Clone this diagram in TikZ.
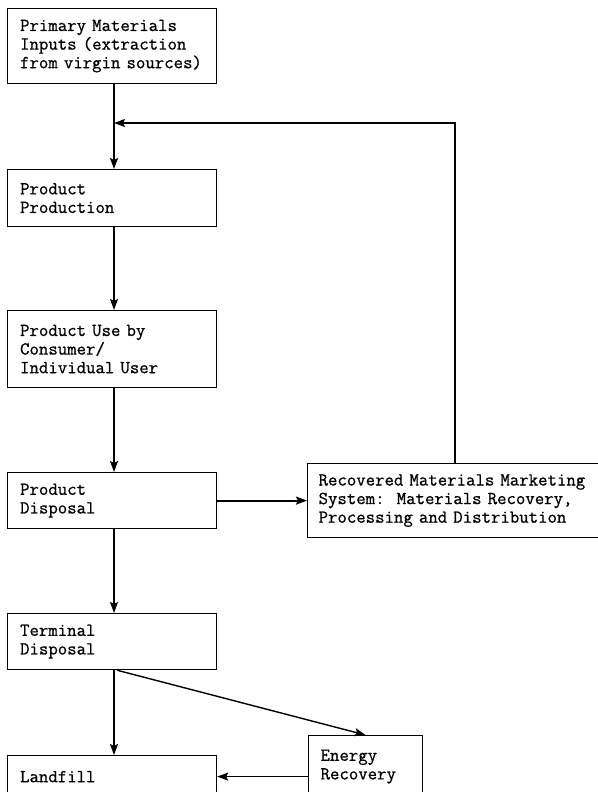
\documentclass[tikz,border=0pt]{standalone}
\usepackage{fontspec}
\newfontfamily\typewriter[FakeBold=0.8]{Latin Modern Mono}
\usetikzlibrary{arrows.meta}
\begin{document}
\frenchspacing
\begin{tikzpicture}[x=1pt,y=-1pt,
  box/.style={draw, line width=1.2pt, anchor=north west, align=left,
    inner xsep=12.5pt, inner ysep=0pt,
    font=\fontsize{18.3}{18.6}\selectfont\typewriter},
  flow/.style={line width=1.4pt,
    -{Stealth[length=11pt,width=8pt,inset=2pt]}}
]
\useasboundingbox (0,0) rectangle (597,792);

% main chain of boxes
\node[box, text width=184pt, minimum height=75pt] (inputs) at (7,8)
  {Primary Materials\\Inputs (extraction\\from virgin sources)};
\node[box, text width=184pt, minimum height=57pt] (production) at (7,169)
  {Product\\Production};
\node[box, text width=184pt, minimum height=77pt] (use) at (7,310)
  {Product Use by\\Consumer/\\Individual User};
\node[box, text width=184pt, minimum height=56pt] (disposal) at (7,472)
  {Product\\Disposal};
\node[box, text width=184pt, minimum height=56pt] (terminal) at (7,613)
  {Terminal\\Disposal};
\node[box, text width=184pt, minimum height=42pt] (landfill) at (7,755)
  {Landfill};

% side boxes
\node[box, inner xsep=11pt, text width=271pt, minimum height=74pt] (recovery) at (307,463)
  {Recovered Materials Marketing\\System:\ \ Materials Recovery,\\Processing and Distribution};
\node[box, inner xsep=12pt, text width=90pt, minimum height=62pt] (energy) at (308,735)
  {Energy\\Recovery};

% helper points
\coordinate (spine) at (114,0);
\coordinate (loop) at (455,123);
\coordinate (merge) at (114,123);

% connectors
\draw[flow] (inputs.south -| spine) -- (production.north -| spine);
\draw[flow] (production.south -| spine) -- (use.north -| spine);
\draw[flow] (use.south -| spine) -- (disposal.north -| spine);
\draw[flow] (disposal.south -| spine) -- (terminal.north -| spine);
\draw[flow] (terminal.south -| spine) -- (landfill.north -| spine);
\draw[flow, line width=1.8pt] (disposal.east) -- (recovery.west |- disposal.east);
\draw[flow] (recovery.north -| loop) -- (loop) -- (merge);
\draw[flow] ([xshift=3pt]terminal.south -| spine) -- (energy.north);
\draw[flow] (energy.west |- landfill.east) -- (landfill.east);
\end{tikzpicture}
\end{document}
